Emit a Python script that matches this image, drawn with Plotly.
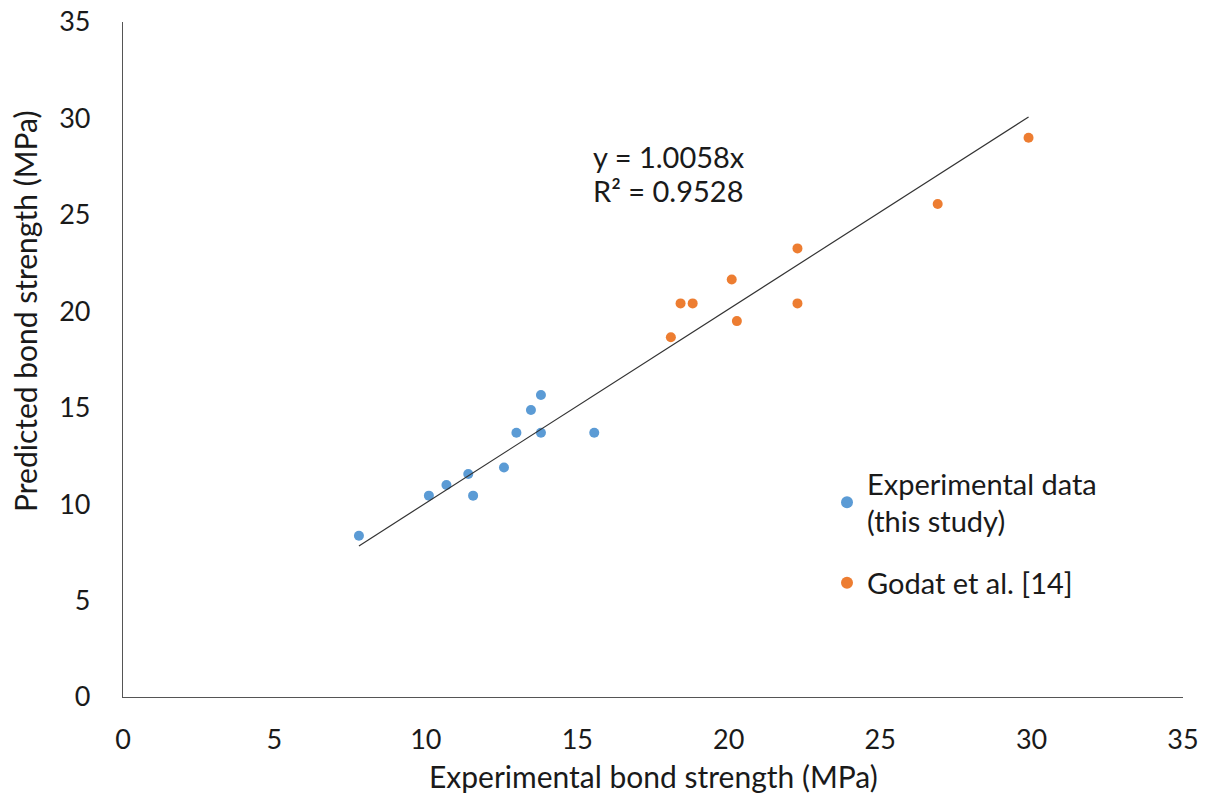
import plotly.graph_objects as go

exp_x = [7.79, 10.10, 10.68, 11.40, 11.56, 12.58, 12.99, 13.47, 13.80, 13.80, 15.56]
exp_y = [8.36, 10.44, 10.99, 11.56, 10.44, 11.90, 13.70, 14.88, 15.66, 13.70, 13.70]

godat_x = [18.09, 18.41, 18.81, 20.10, 20.27, 22.27, 22.27, 26.90, 29.90]
godat_y = [18.65, 20.41, 20.41, 21.65, 19.49, 23.26, 20.41, 25.56, 29.00]

slope = 1.0058
r2 = 0.9528
trend_x = [min(exp_x + godat_x), max(exp_x + godat_x)]
trend_y = [slope * v for v in trend_x]

x_ticks = [0, 5, 10, 15, 20, 25, 30, 35]
y_ticks = [0, 5, 10, 15, 20, 25, 30, 35]

font_family = "Lato, Open Sans, sans-serif"
txt = "#1a1a1a"

# plot area in page pixels
PL, PR, PT, PB = 123, 1183, 22, 697
W, H = PR - PL, PB - PT


def px(x):
    return (x - PL) / W


def py(y):
    return (PB - y) / H


fig = go.Figure()
fig.add_trace(go.Scatter(
    x=exp_x, y=exp_y, mode="markers",
    name="Experimental data<br>(this study)", legendgroup="exp",
    marker=dict(color="#5B9BD5", size=10),
))
fig.add_trace(go.Scatter(
    x=godat_x, y=godat_y, mode="markers",
    name="Godat et al. [14]", legendgroup="godat",
    marker=dict(color="#ED7D31", size=10),
))
fig.add_trace(go.Scatter(
    x=trend_x, y=trend_y, mode="lines",
    line=dict(color="#333333", width=1.2),
    showlegend=False, hoverinfo="skip",
))

fig.add_annotation(
    x=px(591), y=py(157), xref="paper", yref="paper",
    text=f"y = {slope:.4f}x",
    showarrow=False, xanchor="left", yanchor="middle",
    font=dict(size=29, color=txt, family=font_family),
)
fig.add_annotation(
    x=px(591), y=py(190), xref="paper", yref="paper",
    text=f"R\u00b2 = {r2:.4f}",
    showarrow=False, xanchor="left", yanchor="middle",
    font=dict(size=29, color=txt, family=font_family),
)

fig.add_annotation(
    text="Experimental bond strength (MPa)", xref="paper", yref="paper",
    x=px(653), y=py(776), showarrow=False,
    xanchor="center", yanchor="middle", font=dict(size=30, color=txt, family=font_family),
)
fig.add_annotation(
    text="Predicted bond strength (MPa)", xref="paper", yref="paper",
    x=px(25), y=py(312), showarrow=False, textangle=-90,
    xanchor="center", yanchor="middle", font=dict(size=30, color=txt, family=font_family),
)

fig.update_layout(
    width=1208, height=800,
    paper_bgcolor="white", plot_bgcolor="white",
    margin=dict(l=PL, r=1208 - PR, t=PT, b=800 - PB),
    font=dict(family=font_family, color=txt),
    showlegend=True,
    legend=dict(
        x=px(827), y=py(458), xanchor="left", yanchor="top",
        font=dict(size=29, family=font_family, color=txt),
        bgcolor="rgba(0,0,0,0)",
        traceorder="grouped",
        tracegroupgap=21,
        itemwidth=30,
        itemsizing="constant",
    ),
)

fig.update_xaxes(
    range=[0, 35], tickvals=x_ticks, showgrid=False, zeroline=False, automargin=False,
    showline=True, linecolor="#555555", linewidth=1.2, ticks="",
    tickfont=dict(size=27, color=txt), ticklabelstandoff=18,
)
fig.update_yaxes(
    range=[0, 35], tickvals=y_ticks, showgrid=False, zeroline=False, automargin=False,
    showline=True, linecolor="#555555", linewidth=1.2, ticks="",
    tickfont=dict(size=27, color=txt), ticklabelstandoff=26,
)

fig.write_html(
    "out.html",
    config={"displayModeBar": False},
    post_script="document.body.style.margin='0';document.body.style.padding='0';",
)
